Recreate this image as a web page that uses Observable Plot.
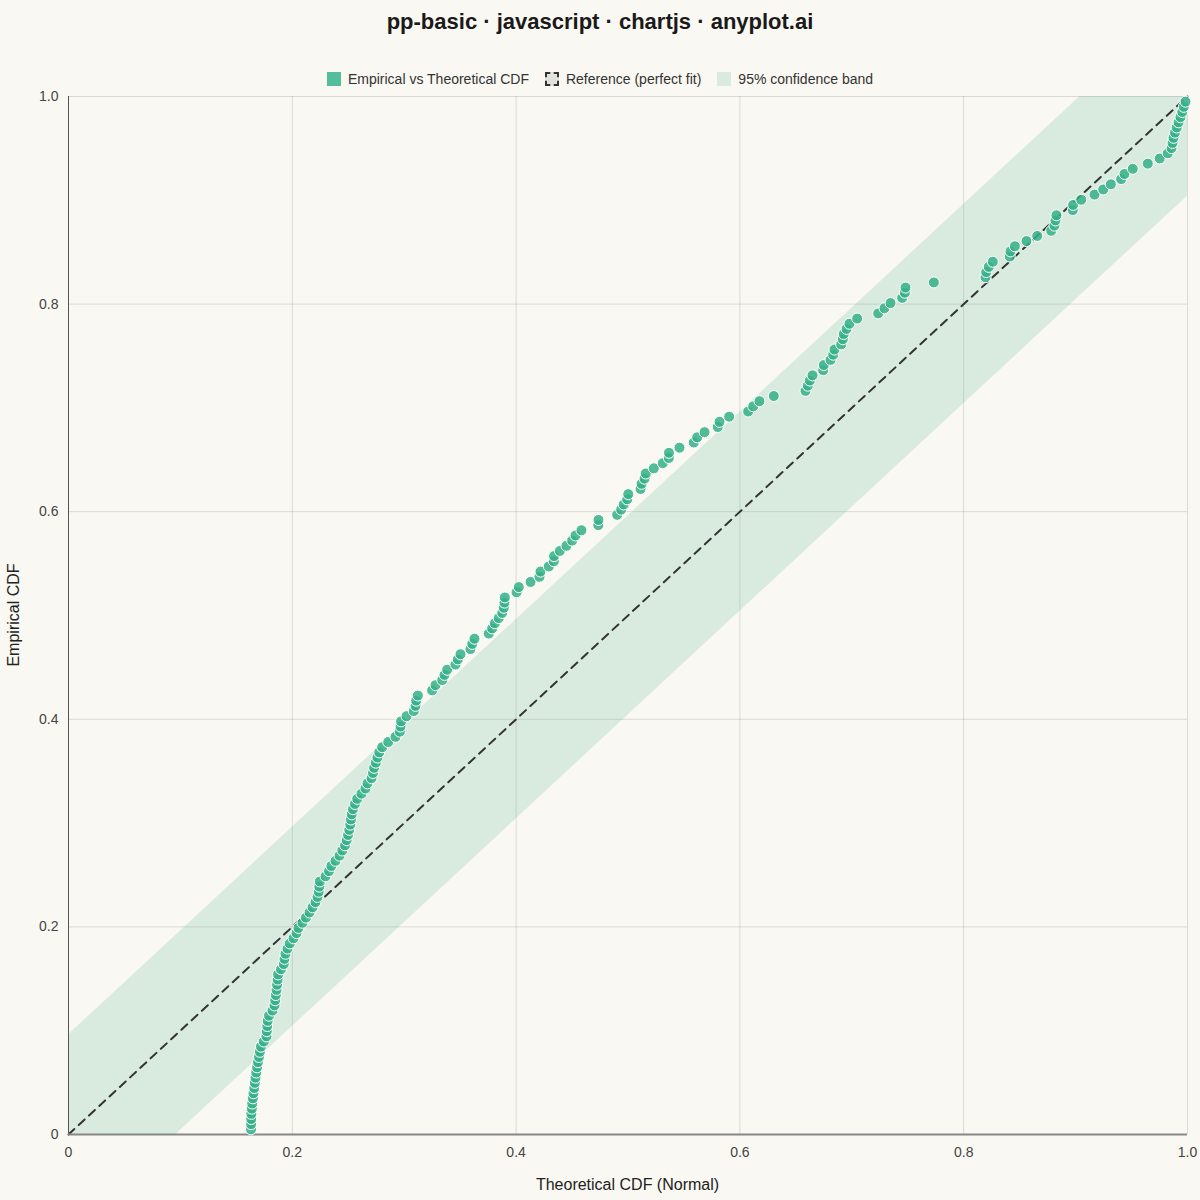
<!DOCTYPE html>
<html>
<head>
<meta charset="utf-8">
<script src="https://cdn.jsdelivr.net/npm/d3@7"></script>
<script src="https://cdn.jsdelivr.net/npm/@observablehq/plot@0.6"></script>
<style>
  html, body { margin:0; padding:0; background:#faf8f2; }
  body { width:1200px; height:1200px; position:relative; font-family:"Liberation Sans", Arial, sans-serif; color:#222; overflow:hidden; }
  #title { position:absolute; left:0; top:0; width:1200px; height:44px; line-height:44px; text-align:center; font-weight:bold; font-size:22px; color:#1a1a1a; }
  #legend { position:absolute; left:0; top:70px; width:1200px; height:18px; display:flex; justify-content:center; align-items:center; font-size:14px; color:#333; }
  .item { display:flex; align-items:center; margin:0 8px; }
  .sw { width:14px; height:14px; box-sizing:border-box; margin-right:7px; }
  #chart { position:absolute; left:0; top:90px; }
  #xlab { position:absolute; left:68px; width:1119px; top:1176px; text-align:center; font-size:16px; color:#222; }
  #ylab { position:absolute; left:14px; top:615px; font-size:16px; color:#222; transform:translate(-50%,-50%) rotate(-90deg); white-space:nowrap; }
</style>
</head>
<body>
<div id="title">pp-basic · javascript · chartjs · anyplot.ai</div>
<div id="legend">
  <div class="item"><div class="sw" style="background:#52be9a"></div>Empirical vs Theoretical CDF</div>
  <div class="item"><div class="sw" style="background:#e2e2dc;border:2px dashed #333"></div>Reference (perfect fit)</div>
  <div class="item"><div class="sw" style="background:#d9ebdf"></div>95% confidence band</div>
</div>
<div id="chart"></div>
<div id="xlab">Theoretical CDF (Normal)</div>
<div id="ylab">Empirical CDF</div>
<script>
// Theoretical CDF values (sorted)
const theoretical = [
0.1631,0.1632,0.1633,0.1634,0.1638,0.1642,0.1648,0.1653,0.1660,0.1665,
0.1671,0.1678,0.1685,0.1693,0.1702,0.1710,0.1720,0.1745,0.1769,0.1772,
0.1776,0.1780,0.1792,0.1823,0.1841,0.1847,0.1853,0.1859,0.1864,0.1869,
0.1873,0.1899,0.1924,0.1930,0.1939,0.1957,0.1978,0.2011,0.2038,0.2055,
0.2091,0.2122,0.2154,0.2181,0.2207,0.2225,0.2236,0.2241,0.2246,0.2297,
0.2328,0.2349,0.2386,0.2422,0.2447,0.2471,0.2486,0.2498,0.2509,0.2518,
0.2524,0.2531,0.2542,0.2560,0.2580,0.2618,0.2654,0.2672,0.2708,0.2721,
0.2731,0.2746,0.2761,0.2777,0.2803,0.2857,0.2922,0.2961,0.2967,0.2972,
0.3021,0.3086,0.3101,0.3107,0.3122,0.3250,0.3280,0.3340,0.3360,0.3384,
0.3458,0.3479,0.3503,0.3592,0.3608,0.3628,0.3756,0.3786,0.3810,0.3845,
0.3876,0.3890,0.3896,0.3899,0.4004,0.4024,0.4129,0.4209,0.4218,0.4292,
0.4337,0.4339,0.4391,0.4450,0.4501,0.4531,0.4584,0.4734,0.4736,0.4903,
0.4939,0.4962,0.4993,0.5002,0.5112,0.5121,0.5148,0.5159,0.5231,0.5311,
0.5365,0.5366,0.5460,0.5588,0.5618,0.5684,0.5802,0.5818,0.5904,0.6074,
0.6119,0.6175,0.6303,0.6586,0.6607,0.6625,0.6649,0.6744,0.6750,0.6810,
0.6834,0.6845,0.6905,0.6920,0.6928,0.6953,0.6979,0.7048,0.7236,0.7292,
0.7346,0.7450,0.7474,0.7480,0.7733,0.8195,0.8201,0.8224,0.8260,0.8412,
0.8418,0.8457,0.8561,0.8657,0.8782,0.8811,0.8820,0.8829,0.8975,0.8978,
0.9050,0.9169,0.9247,0.9315,0.9407,0.9437,0.9511,0.9645,0.9752,0.9824,
0.9857,0.9866,0.9875,0.9888,0.9904,0.9920,0.9937,0.9953,0.9967,0.9982
];
const sampleSize = 200;

// Reference line (perfect fit)
const refX = [0, 1];
const refY = [0, 1];

// 95% confidence band vertices (KS band, half-width 0.096)
const bandT    = [0, 0.096, 0.904, 1];
const bandLow  = [0, 0, 0.808, 0.904];
const bandHigh = [0.096, 0.192, 1, 1];

// Tick values
const tickValues = [0, 0.2, 0.4, 0.6, 0.8, 1.0];
const tickLabels = ["0", "0.2", "0.4", "0.6", "0.8", "1.0"];

const points = theoretical.map((t, i) => ({t, e: (i + 1) / (sampleSize + 1)}));
const band = bandT.map((t, i) => ({t, lo: bandLow[i], hi: bandHigh[i]}));
const ref = refX.map((x, i) => ({x, y: refY[i]}));
const fmt = d => tickLabels[tickValues.findIndex(v => Math.abs(v - d) < 1e-9)];

const chart = Plot.plot({
  width: 1200,
  height: 1110,
  marginTop: 6,
  marginLeft: 68,
  marginRight: 13,
  marginBottom: 66,
  style: {background: "transparent", fontFamily: "Liberation Sans, Arial, sans-serif", fontSize: "14px", color: "#444", overflow: "visible"},
  x: {domain: [0, 1], ticks: tickValues, tickFormat: fmt, tickSize: 0, tickPadding: 13, label: null},
  y: {domain: [0, 1], ticks: tickValues, tickFormat: fmt, tickSize: 0, tickPadding: 10, label: null},
  marks: [
    Plot.gridX(tickValues, {stroke: "#000", strokeOpacity: 0.12, strokeWidth: 1}),
    Plot.gridY(tickValues, {stroke: "#000", strokeOpacity: 0.12, strokeWidth: 1}),
    Plot.areaY(band, {x: "t", y1: "lo", y2: "hi", fill: "#2fa67a", fillOpacity: 0.16}),
    Plot.line(ref, {x: "x", y: "y", stroke: "#333", strokeWidth: 2, strokeDasharray: "8,6"}),
    Plot.ruleX([0], {stroke: "#555", strokeWidth: 1}),
    Plot.ruleY([0], {stroke: "#888", strokeWidth: 2}),
    Plot.dot(points, {x: "t", y: "e", r: 5.5, fill: "#34b087", fillOpacity: 0.85, stroke: "#ffffff", strokeWidth: 1}),
    Plot.axisX({ticks: tickValues, tickFormat: fmt, tickSize: 0, tickPadding: 13, label: null}),
    Plot.axisY({ticks: tickValues, tickFormat: fmt, tickSize: 0, tickPadding: 10, label: null})
  ]
});
document.getElementById("chart").appendChild(chart);
</script>
</body>
</html>
